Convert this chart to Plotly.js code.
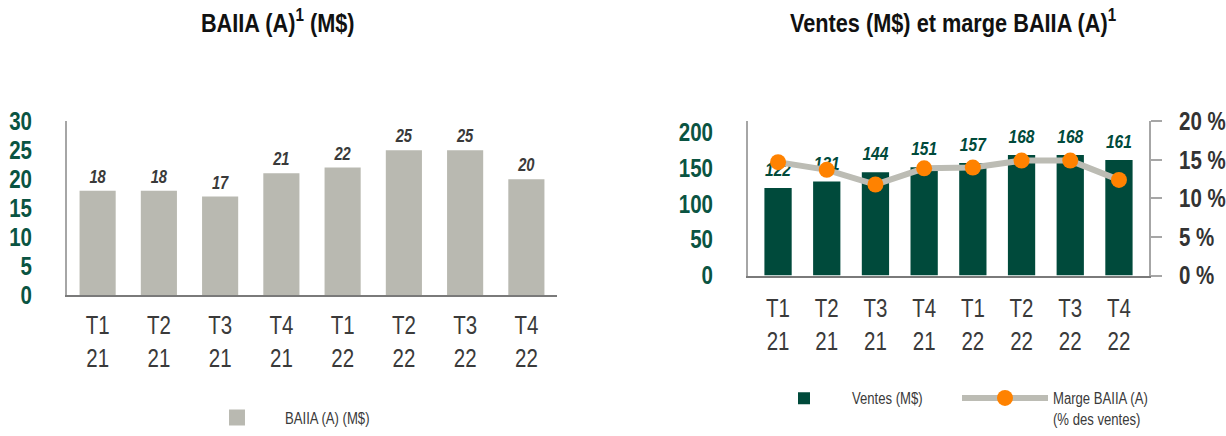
<!DOCTYPE html>
<html>
<head>
<meta charset="utf-8">
<script src="https://cdn.plot.ly/plotly-3.0.1.min.js"></script>
<style>
html,body{margin:0;padding:0;background:#fff;}
#chart{width:1226px;height:436px;}
</style>
</head>
<body>
<div id="chart"></div>
<script>
// ---- data ----
const quarters = ["T1<br>21","T2<br>21","T3<br>21","T4<br>21","T1<br>22","T2<br>22","T3<br>22","T4<br>22"];
const baiia = [18, 18, 17, 21, 22, 25, 25, 20];
const ventes = [122, 131, 144, 151, 157, 168, 168, 161];
const marge = [14.7, 13.7, 11.8, 13.9, 14.0, 14.9, 14.9, 12.4];
const leftTicks = [0, 5, 10, 15, 20, 25, 30];
const salesTicks = [0, 50, 100, 150, 200];
const marginTicks = [0, 5, 10, 15, 20];
const marginTickText = ["0 %", "5 %", "10 %", "15 %", "20 %"];
const leftTitle = "BAIIA (A)<sup>1</sup> (M$)";
const rightTitle = "Ventes (M$) et marge BAIIA (A)<sup>1</sup>";

const FONT = "'Liberation Sans', Arial, sans-serif";
const GREEN = "#004a3b";
const TICKGREEN = "#0a5442";
const GRAYBAR = "#b9b9b1";
const DARK = "#3a3a3a";

const traces = [
  {type:'bar', x:quarters, y:baiia, xaxis:'x', yaxis:'y', name:'BAIIA (A) (M$)',
   marker:{color:GRAYBAR}, width:0.59, legend:'legend', hoverinfo:'skip'},
  {type:'scatter', mode:'markers+text', x:quarters, y:baiia, xaxis:'x', yaxis:'y',
   text:baiia.map(String), textposition:'top center', cliponaxis:false,
   marker:{size:4, color:'rgba(0,0,0,0)'}, showlegend:false, hoverinfo:'skip',
   textfont:{family:FONT, size:18, color:DARK, weight:'bold', style:'italic'}},
  {type:'bar', x:quarters, y:ventes, xaxis:'x2', yaxis:'y2', name:'Ventes (M$)',
   marker:{color:GREEN}, width:0.56, legend:'legend2', hoverinfo:'skip'},
  {type:'scatter', mode:'markers+text', x:quarters, y:ventes, xaxis:'x2', yaxis:'y2',
   text:ventes.map(String), textposition:'top center', cliponaxis:false,
   marker:{size:10, color:'rgba(0,0,0,0)'}, showlegend:false, hoverinfo:'skip',
   textfont:{family:FONT, size:19, color:GREEN, weight:'bold', style:'italic'}},
  {type:'scatter', mode:'lines+markers', x:quarters, y:marge, xaxis:'x2', yaxis:'y3',
   name:'Marge BAIIA (A)<br>(% des ventes)', legend:'legend3', cliponaxis:false,
   line:{color:'#bcbcb4', width:6}, marker:{color:'#ff8200', size:16}, hoverinfo:'skip'}
];

const tickFontX = {family:FONT, size:25, color:DARK};
const legFont = {family:FONT, size:16, color:DARK};
const layout = {
  width:1226, height:436,
  margin:{l:0, r:0, t:0, b:0},
  paper_bgcolor:'#fff', plot_bgcolor:'rgba(0,0,0,0)',
  font:{family:FONT},
  barmode:'overlay',
  xaxis:{domain:[67/1226, 557/1226], anchor:'y', type:'category',
    showline:true, linecolor:'#7a7a7a', linewidth:2.5, ticks:'', showgrid:false,
    tickfont:tickFontX, ticklabelstandoff:7},
  yaxis:{domain:[(436-304)/436, (436-125)/436], anchor:'x', range:[0,30],
    tickvals:leftTicks, showline:true, linecolor:'#a6a6a6', linewidth:2,
    ticks:'', showgrid:false, zeroline:false, ticklabelstandoff:28,
    tickfont:{family:FONT, size:25, color:TICKGREEN, weight:'bold'}},
  xaxis2:{domain:[748/1226, 1149/1226], anchor:'y2', type:'category',
    showline:true, linecolor:'#7a7a7a', linewidth:2.5, ticks:'', showgrid:false,
    tickfont:tickFontX, ticklabelstandoff:9},
  yaxis2:{domain:[(436-284)/436, (436-125)/436], anchor:'x2', range:[0,215],
    tickvals:salesTicks, showline:true, linecolor:'#a6a6a6', linewidth:2,
    ticks:'', showgrid:false, zeroline:false, ticklabelstandoff:28,
    tickfont:{family:FONT, size:25, color:TICKGREEN, weight:'bold'}},
  yaxis3:{overlaying:'y2', side:'right', anchor:'x2', range:[0,20],
    tickvals:marginTicks, ticktext:marginTickText, showline:true, linecolor:'#a6a6a6', linewidth:2,
    ticks:'outside', ticklen:11, tickwidth:2, tickcolor:'#a6a6a6',
    showgrid:false, zeroline:false, ticklabelstandoff:12, ticklabeloverflow:'allow',
    tickfont:{family:FONT, size:25, color:'#333333', weight:'bold'}},
  legend:{x:189/1226, xanchor:'left', y:(436-413)/436, yanchor:'top', orientation:'h',
    itemwidth:86, font:legFont, bgcolor:'rgba(0,0,0,0)'},
  legend2:{x:756/1226, xanchor:'left', y:(436-393)/436, yanchor:'top', orientation:'h',
    itemwidth:86, font:legFont, bgcolor:'rgba(0,0,0,0)'},
  legend3:{x:957/1226, xanchor:'left', y:(436-393)/436, yanchor:'top', orientation:'h',
    itemwidth:86, valign:'top', font:legFont, bgcolor:'rgba(0,0,0,0)'},
  annotations:[
    {xref:'paper', yref:'paper', x:277/1226, y:(436-22)/436, xanchor:'center', yanchor:'middle',
     text:leftTitle, showarrow:false, font:{family:FONT, size:26.5, color:'#111', weight:'bold'}},
    {xref:'paper', yref:'paper', x:953/1226, y:(436-22)/436, xanchor:'center', yanchor:'middle',
     text:rightTitle, showarrow:false, font:{family:FONT, size:26.5, color:'#111', weight:'bold'}}
  ],
  showlegend:true
};

// The original uses a condensed typeface: narrow every text horizontally about its anchor
function condense(gd){
  gd.querySelectorAll('svg text').forEach(function(t){
    var x = parseFloat(t.getAttribute('x')) || 0;
    var tr = t.getAttribute('transform') || '';
    t.setAttribute('transform', tr + ' translate(' + x + ',0) scale(0.82,1) translate(' + (-x) + ',0)');
  });
  gd.querySelectorAll('.legend .legendpoints path.legendundefined, .legend .legendbar path').forEach(function(p){
    p.setAttribute('transform', (p.getAttribute('transform')||'') + ' scale(1.33)');
  });
}

Plotly.newPlot('chart', traces, layout, {staticPlot:true, displayModeBar:false}).then(condense);
</script>
</body>
</html>
